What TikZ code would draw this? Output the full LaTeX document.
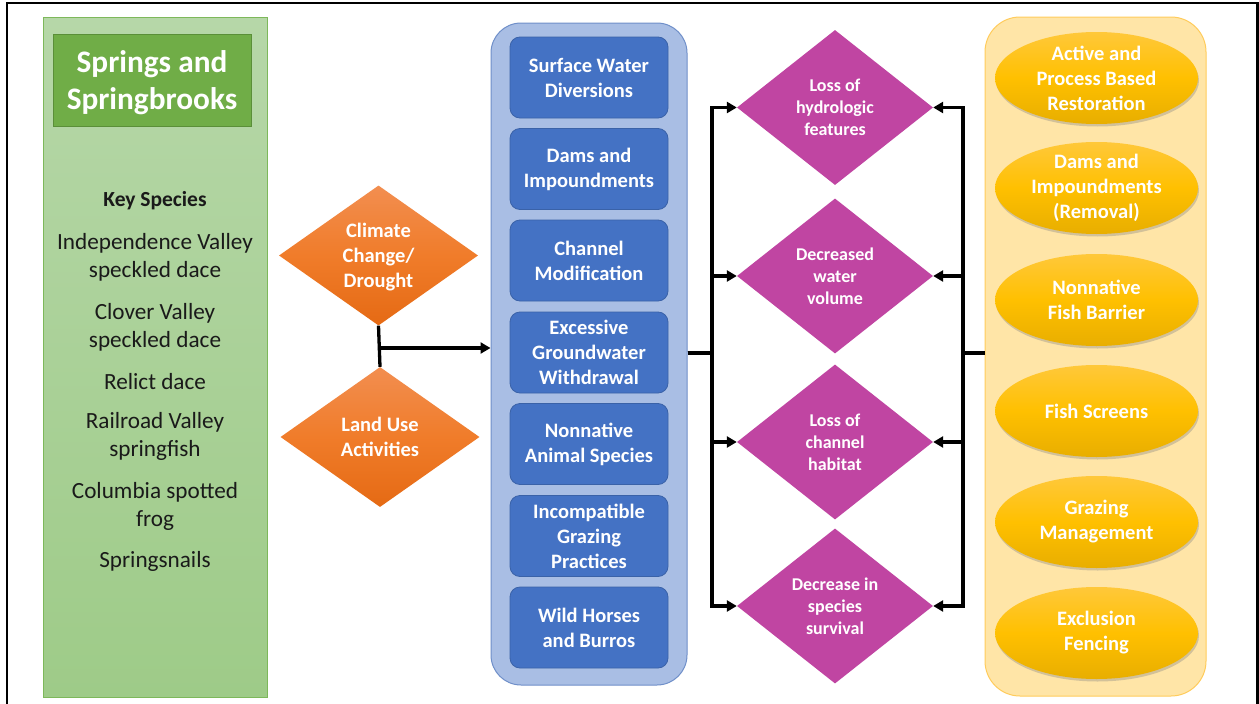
\documentclass[tikz,border=0pt]{standalone}
\usepackage{fontspec}
\setmainfont{Carlito}
\usetikzlibrary{shapes.geometric,arrows.meta,shadows,calc}
\definecolor{grnTop}{HTML}{B6D7A8}
\definecolor{grnBot}{HTML}{9ECB88}
\definecolor{grnLine}{HTML}{7DB85A}
\definecolor{grnTitle}{HTML}{70AD47}
\definecolor{grnTitleLine}{HTML}{5A8F38}
\definecolor{orgTop}{HTML}{F28E50}
\definecolor{orgMid}{HTML}{F07C2A}
\definecolor{orgBot}{HTML}{E56A14}
\definecolor{bluePanel}{HTML}{A9BEE4}
\definecolor{bluePanelLine}{HTML}{6F8FC9}
\definecolor{blueBox}{HTML}{4472C4}
\definecolor{blueBoxLine}{HTML}{3A62A8}
\definecolor{purp}{HTML}{C045A2}
\definecolor{ylwPanel}{HTML}{FFE5A7}
\definecolor{ylwPanelLine}{HTML}{FFCC5C}
\definecolor{goldTop}{HTML}{FFC83A}
\definecolor{goldMid}{HTML}{FFC000}
\definecolor{goldBot}{HTML}{E8AE00}
\definecolor{darktext}{HTML}{1A1A1A}
\begin{document}
\begin{tikzpicture}[x=1pt,y=-1pt,
  wtxt/.style={font=\bfseries\fontsize{20.5}{25}\selectfont, text=white, align=center},
  ptxt/.style={font=\bfseries\fontsize{18}{22}\selectfont, text=white, align=center},
  sptxt/.style={font=\fontsize{23.2}{28}\selectfont, text=darktext, align=center, inner sep=0},
  panelgreen/.style={draw=grnLine, line width=0.8pt, top color=grnTop, bottom color=grnBot, rectangle, minimum width=224, minimum height=680, inner sep=0},
  titlebox/.style={draw=grnTitleLine, line width=0.8pt, fill=grnTitle, rectangle, minimum width=198, minimum height=92, inner sep=0},
  titletxt/.style={text=white, font=\bfseries\fontsize{31.3}{37}\selectfont, align=center},
  orgdia/.style={diamond, inner sep=0, minimum width=199, minimum height=140, top color=orgTop, bottom color=orgBot, middle color=orgMid},
  bluepanel/.style={draw=bluePanelLine, line width=1pt, fill=bluePanel, rectangle, rounded corners=30pt, minimum width=196, minimum height=662, inner sep=0},
  bluebox/.style={draw=blueBoxLine, line width=0.8pt, fill=blueBox, rectangle, rounded corners=10pt, minimum width=158, minimum height=81, inner sep=0, wtxt},
  purdia/.style={diamond, inner sep=0, minimum width=196, minimum height=155, fill=purp},
  ylwpanel/.style={draw=ylwPanelLine, line width=1pt, fill=ylwPanel, rectangle, rounded corners=35pt, minimum width=221, minimum height=679, inner sep=0},
  goal/.style={ellipse, inner sep=0, minimum width=203, minimum height=92, top color=goldTop, bottom color=goldBot, middle color=goldMid, drop shadow={opacity=0.35, shadow xshift=1pt, shadow yshift=-2.5pt}},
  line/.style={line width=3.3pt, black},
  conn/.style={line width=3.3pt, black, -{Triangle[length=10pt,width=11pt]}}
]
\useasboundingbox (0,0) rectangle (1259,704);
\fill[white] (0,0) rectangle (1259,704);
% frame
\draw[line width=2.4pt] (7,712) -- (7,3) -- (1257.5,3) -- (1257.5,712);

% left panel
\node[panelgreen] (gp) at (155,357) {};
\node[titlebox, label={[titletxt, yshift=-3pt]center:Springs and\\Springbrooks}] (title) at (152,80) {};
\node[sptxt, font=\bfseries\fontsize{21.5}{28}\selectfont] (ks) at (155,201) {Key Species};
\node[sptxt] (s1) at (155,257) {Independence Valley\\speckled dace};
\node[sptxt] (s2) at (155,327) {Clover Valley\\speckled dace};
\node[sptxt] (s3) at (155,382) {Relict dace};
\node[sptxt] (s4) at (155,436) {Railroad Valley\\springfish};
\node[sptxt] (s5) at (155,506) {Columbia spotted\\frog};
\node[sptxt] (s6) at (155,561) {Springsnails};

% orange diamonds
\node[orgdia, label={[wtxt, yshift=-2pt]center:Climate\\Change/\\Drought}] (cc) at (378.5,255.5) {};
\node[orgdia, label={[wtxt]center:Land Use\\Activities}] (lu) at (380,437) {};

% blue panel
\node[bluepanel] (bp) at (589,354) {};
\node[bluebox] (b1) at (589,77.5) {Surface Water\\Diversions};
\node[bluebox] (b2) at (589,169) {Dams and\\Impoundments};
\node[bluebox] (b3) at (589,260.5) {Channel\\Modification};
\node[bluebox] (b4) at (589,352.5) {Excessive\\Groundwater\\Withdrawal};
\node[bluebox] (b5) at (589,444) {Nonnative\\Animal Species};
\node[bluebox] (b6) at (589,536) {Incompatible\\Grazing\\Practices};
\node[bluebox] (b7) at (589,627.5) {Wild Horses\\and Burros};

% purple diamonds
\node[purdia, label={[ptxt]center:Loss of\\hydrologic\\features}] (d1) at (835,107.5) {};
\node[purdia, label={[ptxt]center:Decreased\\water\\volume}] (d2) at (835,276) {};
\node[purdia, label={[ptxt]center:Loss of\\channel\\habitat}] (d3) at (835,442) {};
\node[purdia, label={[ptxt]center:Decrease in\\species\\survival}] (d4) at (835,606) {};

% yellow panel
\node[ylwpanel] (yp) at (1095.5,356.5) {};
\node[goal, label={[wtxt]center:Active and\\Process Based\\Restoration}] (g1) at (1096.5,78) {};
\node[goal, label={[wtxt]center:Dams and\\Impoundments\\(Removal)}] (g2) at (1096.5,188) {};
\node[goal, label={[wtxt]center:Nonnative\\Fish Barrier}] (g3) at (1096.5,300) {};
\node[goal, label={[wtxt]center:Fish Screens}] (g4) at (1096.5,411) {};
\node[goal, label={[wtxt]center:Grazing\\Management}] (g5) at (1096.5,522) {};
\node[goal, label={[wtxt]center:Exclusion\\Fencing}] (g6) at (1096.5,633) {};

% connectors
\coordinate (oj) at (379,348);
\draw[line] (cc.south) -- (lu.north);
\draw[conn] (oj) -- (oj -| bp.west);

\coordinate (lj) at (712,353);
\coordinate (rj) at (963,353);
\foreach \d in {d1,d2,d3,d4}{
  \draw[conn] (lj -| bp.east) -- (lj) |- (\d.west);
  \draw[conn] (rj -| yp.west) -- (rj) |- (\d.east);
}
\end{tikzpicture}
\end{document}
